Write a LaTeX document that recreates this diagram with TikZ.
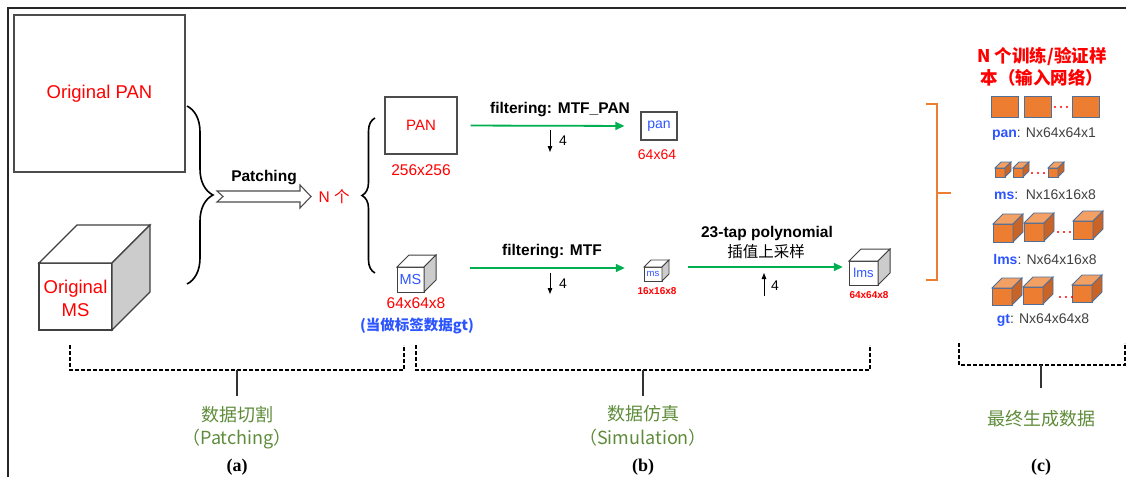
\documentclass[tikz,border=0pt]{standalone}
\usepackage{fontspec}
\setmainfont{Liberation Sans}
\newfontfamily\cjk{Noto Sans CJK SC}
\newfontfamily\serif{Liberation Serif}
\usetikzlibrary{arrows.meta}
\usetikzlibrary{decorations.pathreplacing}

\definecolor{figred}{RGB}{255,0,0}
\definecolor{figblue}{RGB}{45,85,255}
\definecolor{figgreen}{RGB}{0,176,80}
\definecolor{olivetext}{RGB}{94,140,58}
\definecolor{orFront}{RGB}{237,125,49}
\definecolor{orTop}{RGB}{243,160,100}
\definecolor{orSide}{RGB}{200,100,40}
\definecolor{orEdge}{RGB}{80,110,150}
\definecolor{darktext}{RGB}{64,64,64}

\newcommand{\fsz}[2]{\fontsize{#1}{#2}\selectfont}

% a 3d box: front width, front height, depth (origin = front top left)
\tikzset{
  pics/box3d/.style n args={3}{code={
    \draw[face edge, face front] (0,0) rectangle (#1,#2);
    \draw[face edge, face top] (0,0) -- (#3,-#3) -- (#1+#3,-#3) -- (#1,0) -- cycle;
    \draw[face edge, face side] (#1,0) -- (#1+#3,-#3) -- (#1+#3,#2-#3) -- (#1,#2) -- cycle;
  }}
}

\begin{document}
\begin{tikzpicture}[x=1pt,y=-1pt,
  face front/.style={fill=white}, face top/.style={fill=white},
  face side/.style={fill=black!20}, face edge/.style={draw=black!75, line width=1.2pt},
  orange cube/.style={face front/.style={fill=orFront}, face top/.style={fill=orTop},
    face side/.style={fill=orSide}, face edge/.style={draw=orEdge, line width=0.8pt}},
  plainbox/.style={draw=black!70, line width=1.2pt, inner sep=0pt},
  redtxt/.style={text=figred, inner sep=0pt, align=center},
  bluetxt/.style={text=figblue, inner sep=0pt},
  boldlbl/.style={font=\fsz{15.5}{18}\bfseries, inner sep=0pt},
  fourtxt/.style={font=\fsz{14}{16}, inner sep=0pt},
  flow/.style={draw=figgreen, line width=1.8pt, -{Triangle[length=9pt,width=8pt]}},
  smallarrow/.style={line width=0.9pt, -{Triangle[length=6pt,width=4.5pt]}},
  bigbrace/.style={decorate, line width=1.6pt},
  groupline/.style={line width=1.4pt, dash pattern=on 4pt off 2pt},
  tickline/.style={line width=1.6pt, black!80},
  grouptxt/.style={text=olivetext, font=\cjk\fsz{18}{20}, inner sep=0pt},
  captxt/.style={font=\serif\bfseries\fsz{18}{20}, inner sep=0pt},
  rowlbl/.style={text=darktext, font=\fsz{14}{16}, inner sep=0pt},
  dotmark/.style={fill=figred}
]
\useasboundingbox (0,0) rectangle (1126,477);

\draw[line width=1.5pt, black!85] (8,477) -- (8,8) -- (1126,8); % frame

% (a) patching
\node[plainbox, minimum width=171pt, minimum height=157pt, redtxt, font=\fsz{18.5}{22}] (origPAN) at (99.5,93.5) {Original PAN};
\pic at (39,263) {box3d={73}{67}{38}};
\node[redtxt, font=\fsz{18.5}{23}] (origMS) at (75.5,298) {Original\\MS};

\draw[bigbrace, decoration={brace, amplitude=26pt}] (187,106) -- (187,284);
\coordinate (braceTip) at (213,195);
\draw[line width=1.1pt, black!70] (217,191) -- (300,191) -- (300,185) -- (311,196.5) -- (300,208) -- (300,202) -- (217,202) -- (223,196.5) -- cycle; % hollow arrow
\node[boldlbl] (patchTxt) at (264,178) {Patching};
\node[redtxt, font=\fsz{15.5}{17}] (Ncount) at (334,197) {N {\cjk 个}};
\draw[bigbrace, decoration={brace, amplitude=13pt}] (375,273) -- (375,118);

% (b) simulation
\node[plainbox, minimum width=72pt, minimum height=57pt, redtxt, font=\fsz{15}{17}] (PAN) at (421,125.5) {PAN};
\node[redtxt, font=\fsz{15.5}{17}] (PANsize) at (421,170) {256x256};
\node[plainbox, minimum width=36pt, minimum height=28pt, bluetxt, font=\fsz{14}{16}] (pan) at (659,126) {pan};
\node[redtxt, font=\fsz{14}{16}] (pansize) at (657,155) {64x64};

\draw[flow, shorten <=13pt, shorten >=16pt] (PAN.east) -- (pan.west);
\node[boldlbl] (filtPAN) at (560,110) {filtering: MTF\_PAN};
\coordinate (dA1) at (550,130);
\coordinate (dA2) at (550,152);
\draw[smallarrow] (dA1) -- (dA2);
\node[fourtxt] (fourA) at (563,141) {4};

\pic[face edge/.style={draw=black!75, line width=1pt}] at (397,267) {box3d={27}{25}{12}};
\node[bluetxt, font=\fsz{14.5}{16}, minimum width=27pt, minimum height=25pt] (MS) at (410.5,279.5) {MS};
\node[redtxt, font=\fsz{15.5}{17}] (MSsize) at (416,303) {64x64x8};
\node[text=figblue, font=\cjk\bfseries\fsz{14.5}{16}, inner sep=0pt] (gtnote) at (417,326) {(当做标签数据gt)};

\pic[face edge/.style={draw=black!75, line width=0.9pt}] at (644,267) {box3d={18}{14}{7}};
\node[bluetxt, font=\fsz{9.5}{10}, minimum width=18pt, minimum height=14pt] (ms) at (653,274) {ms};
\node[redtxt, font=\bfseries\fsz{10}{11}] (mssize) at (657,291) {16x16x8};

\draw[flow, shorten <=46pt, shorten >=19pt] ([yshift=11.5pt]MS.east) -- ([yshift=11.5pt]MS.east -| ms.west);
\node[boldlbl] (filtMS) at (552,252) {filtering: MTF};
\coordinate (dB1) at (550,273);
\coordinate (dB2) at (550,294);
\draw[smallarrow] (dB1) -- (dB2);
\node[fourtxt] (fourB) at (563,284) {4};

\pic[face edge/.style={draw=black!75, line width=1pt}] at (849,261) {box3d={29}{24}{12}};
\node[bluetxt, font=\fsz{13}{15}, minimum width=29pt, minimum height=24pt] (lms) at (863.5,273) {lms};
\node[redtxt, font=\bfseries\fsz{10}{11}] (lmssize) at (869,295) {64x64x8};

\draw[flow, shorten <=26pt, shorten >=6pt] ([yshift=7pt]ms.east) -- ([yshift=7pt]ms.east -| lms.west);
\node[boldlbl] (polyTxt) at (767,233) {23-tap polynomial};
\node[font=\cjk\fsz{15.5}{17}, inner sep=0pt] (interpTxt) at (766,252) {插值上采样};
\coordinate (uC1) at (764,296);
\coordinate (uC2) at (764,273);
\draw[smallarrow] (uC1) -- (uC2);
\node[fourtxt] (fourC) at (775,286) {4};

% (c) final data
\draw[orFront, line width=2pt] (926,104) -- (937,104) -- (937,280) -- (926,280);
\draw[orFront, line width=2pt] (937,193) -- (951,193);
\node[redtxt, font=\cjk\bfseries\fsz{17.5}{22}] (title) at (1042,67) {N 个训练/验证样\\本（输入网络）};

\foreach \x in {991,1024,1072}
  \draw[draw=orEdge, fill=orFront, line width=0.8pt] (\x,96) rectangle ++(27,21);
\foreach \x in {1055,1061,1067}
  \fill[dotmark] (\x,107) circle (1.1);
\node[rowlbl] (panrow) at (1044,134) {\textcolor{figblue}{\bfseries pan}: Nx64x64x1};

\foreach \x in {995,1013,1048}
  \pic[orange cube] at (\x,168) {box3d={10}{9}{6}};
\foreach \x in {1032,1038,1044}
  \fill[dotmark] (\x,173) circle (1.1);
\node[rowlbl] (msrow) at (1045,195) {\textcolor{figblue}{\bfseries ms}:\, Nx16x16x8};

\pic[orange cube] at (993,224) {box3d={20}{18}{10}};
\pic[orange cube] at (1024,223) {box3d={20}{18}{10}};
\pic[orange cube] at (1073,221) {box3d={20}{18}{10}};
\foreach \x in {1058,1064,1070}
  \fill[dotmark] (\x,232) circle (1.1);
\node[rowlbl] (lmsrow) at (1045,259) {\textcolor{figblue}{\bfseries lms}: Nx64x16x8};

\pic[orange cube] at (992,288) {box3d={20}{17}{10}};
\pic[orange cube] at (1023,287) {box3d={20}{17}{10}};
\pic[orange cube] at (1072,285) {box3d={20}{17}{10}};
\foreach \x in {1060,1066,1072}
  \fill[dotmark] (\x,297) circle (1.1);
\node[rowlbl] (gtrow) at (1043,320) {\textcolor{figblue}{\bfseries gt}: Nx64x64x8};

% group brackets
\draw[groupline] (70,345) -- (70,370) -- (404,370) -- (404,345);
\coordinate (aTop) at (237,370);
\coordinate (aEnd) at (237,396);
\draw[tickline] (aTop) -- (aEnd);
\node[grouptxt] (patchCN) at (237,415) {数据切割};
\node[grouptxt] (patchEN) at (237,439) {（Patching）};
\node[captxt] (capA) at (237,467) {(a)};

\draw[groupline] (416,345) -- (416,370) -- (870,370) -- (870,345);
\coordinate (bTop) at (643,370);
\coordinate (bEnd) at (643,396);
\draw[tickline] (bTop) -- (bEnd);
\node[grouptxt] (simCN) at (643,414) {数据仿真};
\node[grouptxt] (simEN) at (643,438) {（Simulation）};
\node[captxt] (capB) at (643,467) {(b)};

\draw[groupline] (959,343) -- (959,365) -- (1125,365) -- (1125,343);
\coordinate (cTop) at (1041,365);
\coordinate (cEnd) at (1041,388);
\draw[tickline] (cTop) -- (cEnd);
\node[grouptxt] (finalCN) at (1041,419) {最终生成数据};
\node[captxt] (capC) at (1041,467) {(c)};

\end{tikzpicture}
\end{document}
